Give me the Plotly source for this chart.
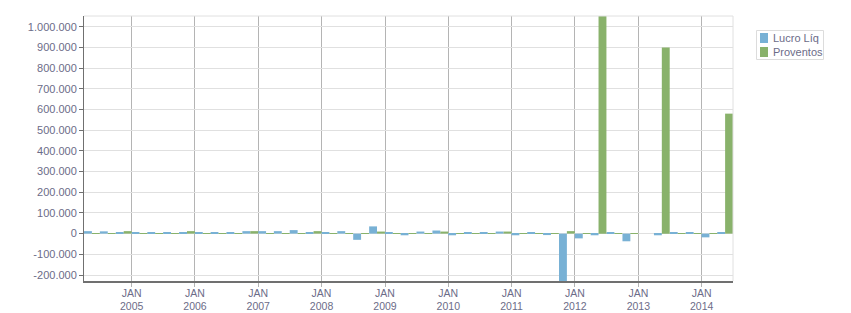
import pandas as pd
import plotly.graph_objects as go

quarters = pd.period_range("2004Q2", "2014Q2", freq="Q")
quarter_labels = [str(q) for q in quarters]

series_names = ["Lucro Líq", "Proventos"]
lucro_liq = [12000, 11000, 7000, 6000, 6000, 6000, 6000, 6000, 6000, 6000,
             12000, 12000, 12000, 17000, 7000, 8000, 12000, -30000, 35000, 6000,
             -8000, 10000, 15000, -8000, 7000, 7000, 10000, -8000, 6000, -7000,
             -260000, -23000, -8000, 6000, -37000, None, -8000, 6000, 6000, -18000,
             6000]
proventos = [3000, 3000, 12000, 3000, 3000, 3000, 12000, 3000, 3000, 3000,
             12000, 3000, 3000, 3000, 12000, 3000, 3000, 3000, 10000, 3000,
             3000, 3000, 10000, 3000, 3000, 3000, 10000, 3000, 3000, 3000,
             12000, 3000, 1100000, 3000, 3000, None, 900000, 3000, 3000, 3000,
             580000]

y_tickvals = [-200000, -100000, 0, 100000, 200000, 300000, 400000, 500000,
              600000, 700000, 800000, 900000, 1000000]
y_ticktext = ["-200.000", "-100.000", "0", "100.000", "200.000", "300.000", "400.000",
              "500.000", "600.000", "700.000", "800.000", "900.000", "1.000.000"]
x_tickvals = ["%d-01-01" % y for y in range(2005, 2015)]
x_ticktext = ["JAN<br>%d" % y for y in range(2005, 2015)]

# quarter midpoints
starts = quarters.start_time
ends = quarters.end_time
mids = starts + (ends - starts) / 2
half_ms = 45.5 * 24 * 3600 * 1000

BLUE = "#78B1D5"
GREEN = "#89B26B"
COLORS = [BLUE, GREEN]
TXT = "#6c6c88"
FONT = "Liberation Sans"
FS = 11

W, H = 851, 313
ML, MR, MT, MB = 84, 118, 16, 32
PW, PH = W - ML - MR, H - MT - MB


def px_x(p):
    return (p - ML) / PW


def px_y(p):
    return (H - MB - p) / PH


fig = go.Figure()
fig.add_bar(x=mids, y=lucro_liq, name=series_names[0], marker_color=BLUE,
            marker_line_width=0, offset=-half_ms, width=half_ms, showlegend=False)
fig.add_bar(x=mids, y=proventos, name=series_names[1], marker_color=GREEN,
            marker_line_width=0, offset=0, width=half_ms, showlegend=False)

fig.update_layout(
    width=W, height=H,
    margin=dict(l=ML, r=MR, t=MT, b=MB, autoexpand=False),
    paper_bgcolor="white", plot_bgcolor="white",
    barmode="overlay",
    font=dict(family=FONT, size=FS, color=TXT),
    showlegend=False,
)
fig.update_xaxes(
    type="date", range=["2004-04-01", "2014-07-01"],
    tickvals=x_tickvals, ticktext=x_ticktext,
    showgrid=True, gridcolor="#b4b4b4", gridwidth=1,
    ticks="outside", ticklen=4, tickcolor="#b4b4b4",
    showline=True, linecolor="#707070", linewidth=2,
    zeroline=False, automargin=False, ticklabelstandoff=-3,
    tickfont=dict(family=FONT, size=10.5, color=TXT),
)
fig.update_yaxes(
    range=[-229000, 1052000],
    tickvals=y_tickvals, ticktext=y_ticktext,
    showgrid=True, gridcolor="#e0e0e0", gridwidth=1,
    ticks="outside", ticklen=4, tickcolor="#707070",
    showline=True, linecolor="#707070", linewidth=1,
    zeroline=False, automargin=False,
    tickfont=dict(family=FONT, size=FS, color=TXT),
)
# light frame on top and right
fig.add_shape(type="line", xref="paper", yref="paper", x0=0, x1=1, y0=1, y1=1,
              line=dict(color="#e0e0e0", width=1))
fig.add_shape(type="line", xref="paper", yref="paper", x0=1, x1=1, y0=0, y1=1,
              line=dict(color="#e0e0e0", width=1))

# legend box drawn by hand (compact, as in the reference)
fig.add_shape(type="rect", xref="paper", yref="paper",
              x0=px_x(756.5), x1=px_x(823.5), y0=px_y(59.5), y1=px_y(30.5),
              line=dict(color="#dcdcdc", width=1), fillcolor="white")
for i, (name, col) in enumerate(zip(series_names, COLORS)):
    cy = 38 + 14 * i
    fig.add_shape(type="rect", xref="paper", yref="paper",
                  x0=px_x(760), x1=px_x(768), y0=px_y(cy + 5), y1=px_y(cy - 5),
                  line=dict(width=0), fillcolor=col)
    fig.add_annotation(xref="paper", yref="paper", x=px_x(770.5), y=px_y(cy),
                       xanchor="left", yanchor="middle", showarrow=False,
                       text=name, font=dict(family=FONT, size=FS, color=TXT))

fig.write_html("out.html")
